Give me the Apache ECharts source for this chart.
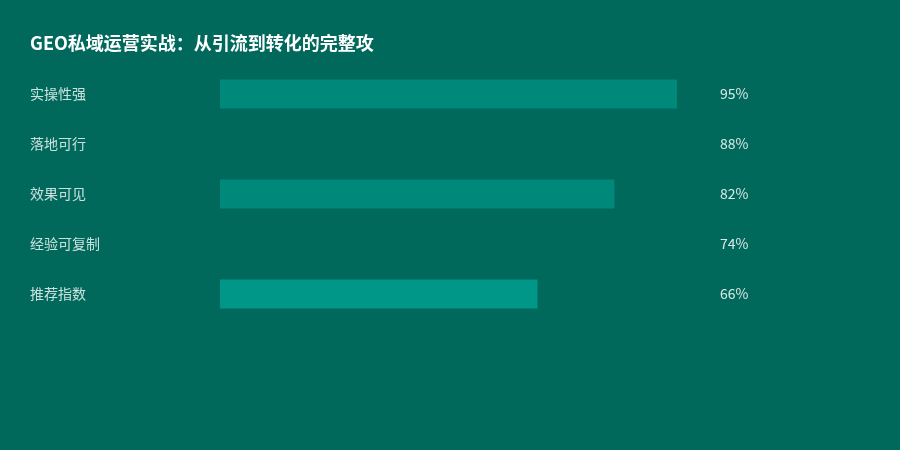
<!DOCTYPE html>
<html>
<head>
<meta charset="utf-8">
<script src="https://cdn.jsdelivr.net/npm/echarts@6/dist/echarts.min.js"></script>
<style>
html, body { margin: 0; padding: 0; background: #00695C; }
#chart { width: 900px; height: 450px; }
</style>
</head>
<body>
<div id="chart"></div>
<script>
// 横向条形图
var categories = ['实操性强', '落地可行', '效果可见', '经验可复制', '推荐指数'];
var values = [95, 88, 82, 74, 66];
var barColors = ['#00897B', '#00695C', '#00897B', '#00695C', '#009688'];

var myChart = echarts.init(document.getElementById('chart'));

myChart.setOption({
    backgroundColor: '#00695C',
    title: {
        text: 'GEO私域运营实战：从引流到转化的完整攻',
        left: 30,
        top: 34,
        padding: 0,
        textStyle: {
            color: '#ffffff',
            fontSize: 18,
            fontWeight: 'bold',
            fontFamily: 'Noto Sans CJK SC'
        }
    },
    grid: {
        left: 220,
        right: 199,
        top: 69,
        bottom: 131
    },
    xAxis: {
        type: 'value',
        min: 0,
        max: 100,
        show: false
    },
    yAxis: [
        {
            type: 'category',
            inverse: true,
            data: categories,
            axisLine: { show: false },
            axisTick: { show: false },
            axisLabel: {
                align: 'left',
                margin: 190,
                color: 'rgba(255,255,255,0.8)',
                fontSize: 14,
                fontFamily: 'Noto Sans CJK SC'
            }
        },
        {
            type: 'category',
            inverse: true,
            position: 'right',
            data: values.map(function (v) { return v + '%'; }),
            axisLine: { show: false },
            axisTick: { show: false },
            axisLabel: {
                align: 'left',
                margin: 19,
                color: 'rgba(255,255,255,0.85)',
                fontSize: 14,
                fontFamily: 'Noto Sans CJK SC'
            }
        }
    ],
    series: [
        {
            type: 'bar',
            barWidth: 29,
            data: values.map(function (v, i) {
                return { value: v, itemStyle: { color: barColors[i] } };
            })
        }
    ]
});
</script>
</body>
</html>
